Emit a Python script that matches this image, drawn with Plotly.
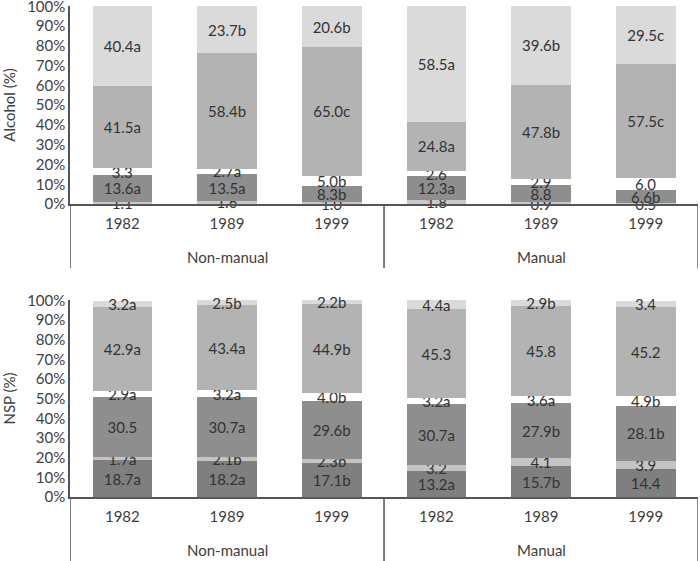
import plotly.graph_objects as go
from plotly.subplots import make_subplots

group_names = ["Non-manual", "Manual"]
years = ["1982", "1989", "1999"]
bar_keys = [g + " " + y for g in group_names for y in years]
year_ticks = years * 2

# Alcohol (%) segments, bottom to top
alc_s1 = [1.1, 1.6, 1.0, 1.8, 0.9, 0.5]
alc_s1_lbl = ["1.1", "1.6", "1.0", "1.8", "0.9", "0.5"]
alc_s2 = [13.6, 13.5, 8.3, 12.3, 8.8, 6.6]
alc_s2_lbl = ["13.6a", "13.5a", "8.3b", "12.3a", "8.8", "6.6b"]
alc_s3 = [3.3, 2.7, 5.0, 2.6, 2.9, 6.0]
alc_s3_lbl = ["3.3", "2.7a", "5.0b", "2.6", "2.9", "6.0"]
alc_s4 = [41.5, 58.4, 65.0, 24.8, 47.8, 57.5]
alc_s4_lbl = ["41.5a", "58.4b", "65.0c", "24.8a", "47.8b", "57.5c"]
alc_s5 = [40.4, 23.7, 20.6, 58.5, 39.6, 29.5]
alc_s5_lbl = ["40.4a", "23.7b", "20.6b", "58.5a", "39.6b", "29.5c"]

# NSP (%) segments, bottom to top
nsp_s1 = [18.7, 18.2, 17.1, 13.2, 15.7, 14.4]
nsp_s1_lbl = ["18.7a", "18.2a", "17.1b", "13.2a", "15.7b", "14.4"]
nsp_s2 = [1.7, 2.1, 2.3, 3.2, 4.1, 3.9]
nsp_s2_lbl = ["1.7a", "2.1b", "2.3b", "3.2", "4.1", "3.9"]
nsp_s3 = [30.5, 30.7, 29.6, 30.7, 27.9, 28.1]
nsp_s3_lbl = ["30.5", "30.7a", "29.6b", "30.7a", "27.9b", "28.1b"]
nsp_s4 = [2.9, 3.2, 4.0, 3.2, 3.6, 4.9]
nsp_s4_lbl = ["2.9a", "3.2a", "4.0b", "3.2a", "3.6a", "4.9b"]
nsp_s5 = [42.9, 43.4, 44.9, 45.3, 45.8, 45.2]
nsp_s5_lbl = ["42.9a", "43.4a", "44.9b", "45.3", "45.8", "45.2"]
nsp_s6 = [3.2, 2.5, 2.2, 4.4, 2.9, 3.4]
nsp_s6_lbl = ["3.2a", "2.5b", "2.2b", "4.4a", "2.9b", "3.4"]

alc_series = [
    (alc_s1, alc_s1_lbl, "#c9c9c9"),
    (alc_s2, alc_s2_lbl, "#8e8e8e"),
    (alc_s3, alc_s3_lbl, "#ffffff"),
    (alc_s4, alc_s4_lbl, "#b3b3b3"),
    (alc_s5, alc_s5_lbl, "#dadada"),
]
nsp_series = [
    (nsp_s1, nsp_s1_lbl, "#7f7f7f"),
    (nsp_s2, nsp_s2_lbl, "#c4c4c4"),
    (nsp_s3, nsp_s3_lbl, "#8e8e8e"),
    (nsp_s4, nsp_s4_lbl, "#ffffff"),
    (nsp_s5, nsp_s5_lbl, "#b3b3b3"),
    (nsp_s6, nsp_s6_lbl, "#dadada"),
]

FONT = "Lato, 'Open Sans', sans-serif"
TXT = "#333333"
AX = "#404040"
LINE = "#555555"

fig = make_subplots(rows=2, cols=1)

for row, series in ((1, alc_series), (2, nsp_series)):
    for vals, lbls, col in series:
        fig.add_trace(go.Bar(
            x=bar_keys, y=vals, text=lbls,
            textposition="inside", insidetextanchor="middle",
            constraintext="none", cliponaxis=False,
            textfont=dict(family=FONT, size=15, color=TXT),
            marker=dict(color=col, line=dict(width=0)),
            showlegend=False, hoverinfo="skip",
        ), row=row, col=1)

fig.update_xaxes(
    type="category", tickvals=bar_keys, ticktext=year_ticks,
    showline=True, linecolor=LINE, linewidth=1.5, ticks="",
    ticklabelstandoff=5, tickfont=dict(family=FONT, size=15, color=AX),
    showgrid=False, zeroline=False, automargin=False,
    range=[-0.5, 5.5],
)
fig.update_yaxes(
    range=[0, 100.15], tickvals=list(range(0, 101, 10)),
    ticktext=[f"{v}%" for v in range(0, 101, 10)],
    showline=True, linecolor=LINE, linewidth=1.5, ticks="",
    tickfont=dict(family=FONT, size=15, color=AX),
    showgrid=False, zeroline=False, automargin=False,
    ticklabeloverflow="allow",
)
fig.update_yaxes(title=dict(text="Alcohol (%)", font=dict(family=FONT, size=15, color=AX), standoff=15), row=1, col=1)
fig.update_yaxes(title=dict(text="NSP (%)", font=dict(family=FONT, size=15, color=AX), standoff=15), row=2, col=1)

fig.update_layout(
    barmode="stack", bargap=0.43,
    width=700, height=561,
    margin=dict(l=70, r=1, t=6, b=64, autoexpand=False),
    plot_bgcolor="white", paper_bgcolor="white",
    font=dict(family=FONT, color=AX),
    xaxis=dict(domain=[0, 0.9985]), xaxis2=dict(domain=[0, 0.9985]),
    yaxis=dict(domain=[0.5967, 1.0]), yaxis2=dict(domain=[0.0, 0.4012]),
)

# group dividers and group labels below each panel
for xr, yr, depth, lab_y in (("x", "y domain", -0.323, -0.268), ("x2", "y2 domain", -0.325, -0.269)):
    for xd in (-0.5, 2.5, 5.5):
        fig.add_shape(type="line", xref=xr, yref=yr, x0=xd, x1=xd, y0=0, y1=depth,
                      line=dict(color=LINE, width=1.5))
    for gi, g in enumerate(group_names):
        fig.add_annotation(text=g, xref=xr, yref=yr, x=gi * 3 + 1, y=lab_y,
                           showarrow=False, yanchor="middle",
                           font=dict(family=FONT, size=15, color=AX))

fig.write_html("out.html", config={"displayModeBar": False},
               post_script="document.body.style.margin='0';document.body.style.overflow='hidden';")
